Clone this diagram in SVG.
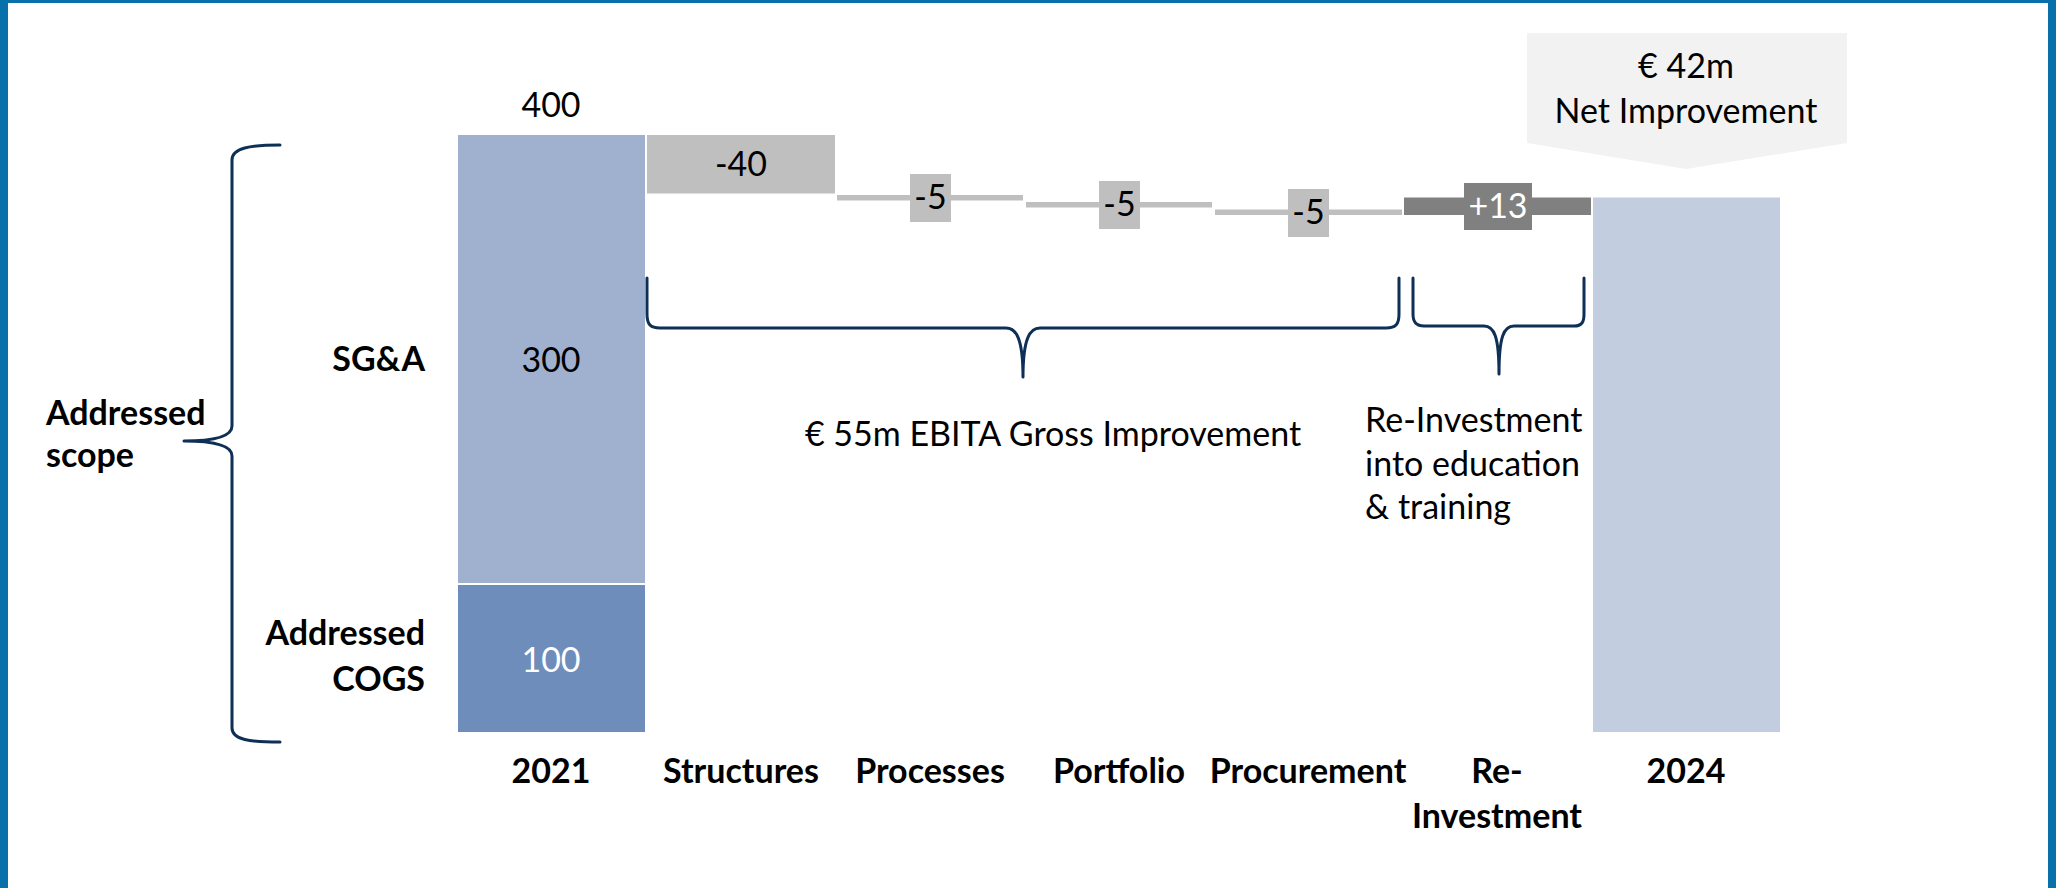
<svg xmlns="http://www.w3.org/2000/svg" width="2056" height="888" viewBox="0 0 2056 888">
  <style>
    text { font-family: Lato, "Open Sans", "Liberation Sans", sans-serif; font-size: 34px; fill: #000; }
    .c { text-anchor: middle; }
    .r { text-anchor: end; }
    .b { font-weight: bold; }
    .w { fill: #fff; }
    .brace { fill: none; stroke: #0E2F56; stroke-width: 3; stroke-linecap: round; stroke-linejoin: round; }
    .frame { fill: #0871AC; }
  </style>

  <!-- page frame -->
  <rect width="2056" height="888" fill="#fff"/>
  <rect class="frame" x="0" y="0" width="2056" height="3"/>
  <rect class="frame" x="0" y="0" width="8" height="888"/>
  <rect class="frame" x="2048" y="0" width="8" height="888"/>

  <!-- net improvement callout -->
  <g id="callout">
    <polygon points="1527,33 1847,33 1847,143 1686,169 1527,143" fill="#F2F2F2"/>
    <text class="c" x="1686" y="78">€ 42m</text>
    <text class="c" x="1686" y="123">Net Improvement</text>
  </g>

  <!-- 2021 stacked bar -->
  <g id="bar-2021">
    <rect x="458" y="135" width="187" height="448" fill="#9FB1CF"/>
    <rect x="458" y="585" width="187" height="147" fill="#6F8DBA"/>
    <text class="c" x="551" y="117">400</text>
    <text class="c" x="551" y="372">300</text>
    <text class="c w" x="551" y="672">100</text>
    <text class="c b" x="551" y="783">2021</text>
  </g>

  <g id="bar-structures">
    <rect x="647" y="135" width="188" height="58.5" fill="#BFBFBF"/>
    <text class="c" x="741" y="176">-40</text>
    <text class="c b" x="741" y="783">Structures</text>
  </g>

  <g id="bar-processes">
    <rect x="837" y="195" width="186" height="5.5" fill="#BFBFBF"/>
    <rect x="910" y="174" width="41" height="48" fill="#BFBFBF"/>
    <text class="c" x="930.5" y="209">-5</text>
    <text class="c b" x="930" y="783">Processes</text>
  </g>

  <g id="bar-portfolio">
    <rect x="1026" y="202" width="186" height="5.5" fill="#BFBFBF"/>
    <rect x="1099" y="181" width="41" height="48" fill="#BFBFBF"/>
    <text class="c" x="1119.5" y="216">-5</text>
    <text class="c b" x="1119" y="783">Portfolio</text>
  </g>

  <g id="bar-procurement">
    <rect x="1215" y="209.5" width="187" height="5.5" fill="#BFBFBF"/>
    <rect x="1288" y="189" width="41" height="48" fill="#BFBFBF"/>
    <text class="c" x="1308.5" y="224">-5</text>
    <text class="c b" x="1308" y="783">Procurement</text>
  </g>

  <g id="bar-reinvestment">
    <rect x="1404" y="197.5" width="187" height="17.5" fill="#808080"/>
    <rect x="1464" y="183" width="68" height="47" fill="#808080"/>
    <text class="c w" x="1498" y="218">+13</text>
    <text class="c b" x="1497" y="783">Re-</text>
    <text class="c b" x="1497" y="828">Investment</text>
  </g>

  <g id="bar-2024">
    <rect x="1593" y="197.5" width="187" height="534.5" fill="#C2CEE0"/>
    <text class="c b" x="1686" y="783">2024</text>
  </g>

  <!-- row labels -->
  <g id="label-sga">
    <text class="r b" x="425" y="371">SG&amp;A</text>
  </g>
  <g id="label-cogs">
    <text class="r b" x="425" y="645">Addressed</text>
    <text class="r b" x="425" y="691">COGS</text>
  </g>
  <g id="label-scope">
    <text class="b" x="46" y="425">Addressed</text>
    <text class="b" x="46" y="467">scope</text>
  </g>

  <!-- annotations -->
  <g id="note-gross">
    <text class="c" x="1053" y="446">€ 55m EBITA Gross Improvement</text>
  </g>
  <g id="note-reinvest">
    <text x="1365" y="432">Re-Investment</text>
    <text x="1365" y="476">into education</text>
    <text x="1365" y="519">&amp; training</text>
  </g>

  <!-- braces -->
  <g id="connectors">
    <path class="brace" d="M280,145 C250,145 232,148 232,160 L232,426 C232,436 215,441 184,441 C215,441 232,446 232,456 L232,728 C232,740 250,742 280,742"/>
    <path class="brace" d="M647,278 L647,314 C647,324 650,328 660,328 L1006,328 C1016,328 1023,338 1023,377 C1023,338 1030,328 1040,328 L1386,328 C1396,328 1399,324 1399,314 L1399,278"/>
    <path class="brace" d="M1413,278 L1413,314 C1413,322 1416,326 1424,326 L1484,326 C1494,326 1499,336 1499,374 C1499,336 1504,326 1514,326 L1574,326 C1582,326 1584,322 1584,314 L1584,278"/>
  </g>
</svg>
